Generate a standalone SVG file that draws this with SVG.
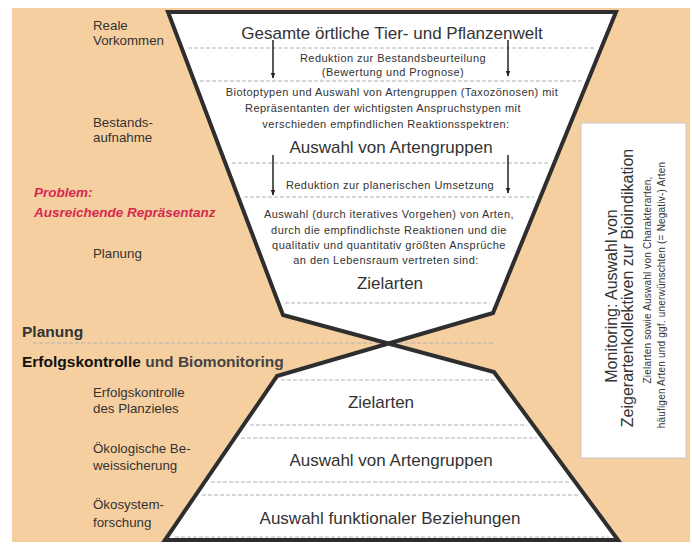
<svg xmlns="http://www.w3.org/2000/svg" width="692" height="550" viewBox="0 0 692 550">
<defs>
<marker id="ah" viewBox="0 0 10 10" refX="9" refY="5" markerWidth="6" markerHeight="6" markerUnits="userSpaceOnUse" orient="auto">
<path d="M0,1 L10,5 L0,9 Z" fill="#222"/>
</marker>
<style>
text{font-family:"Liberation Sans",Arial,sans-serif;fill:#333}
.big{font-size:17px;text-anchor:middle}
.sm{font-size:11px;text-anchor:middle;letter-spacing:0.45px}
.lbl{font-size:13.3px}
.hd{font-size:15.5px;font-weight:bold}
.red{font-size:13.5px;font-weight:bold;font-style:italic;fill:#d42a50}
.sep{stroke:#b3b3b3;stroke-width:1;stroke-dasharray:4 2;fill:none}
.arr{stroke:#222;stroke-width:1.5;marker-end:url(#ah)}
.rot1{font-size:16px;text-anchor:middle}
.rot2{font-size:10px;text-anchor:middle;letter-spacing:0.2px}
</style>
</defs>
<rect x="0" y="0" width="692" height="550" fill="#ffffff"/>
<rect x="12" y="8" width="678" height="534" fill="#f6cfa1"/>

<g id="funnel-top">
<polygon points="168,12 616,12 493,313 389,343 283,315" fill="#ffffff"/>
</g>
<g id="funnel-bottom">
<polygon points="389,343 494,372 618,540 165,540 277,376" fill="#ffffff"/>
</g>

<g id="separators">
<line class="sep" x1="188" y1="48" x2="596" y2="48"/>
<line class="sep" x1="200" y1="81" x2="583" y2="81"/>
<line class="sep" x1="232" y1="163" x2="548" y2="163"/>
<line class="sep" x1="244" y1="197" x2="534" y2="197"/>
<line class="sep" x1="285" y1="303" x2="490" y2="303"/>
<line class="sep" x1="33" y1="343" x2="494" y2="343"/>
<line class="sep" x1="281" y1="380" x2="495" y2="380"/>
<line class="sep" x1="250" y1="425" x2="527" y2="425"/>
<line class="sep" x1="241" y1="438" x2="537" y2="438"/>
<line class="sep" x1="211" y1="482" x2="569" y2="482"/>
<line class="sep" x1="202" y1="495" x2="579" y2="495"/>
<line class="sep" x1="175" y1="537" x2="609" y2="537"/>
</g>

<g id="outline">
<path d="M168,12 L616,12 L493,313 L277,376 L165,540 L618,540 L494,372 L283,315 Z" fill="none" stroke="#2e2e2e" stroke-width="4" stroke-linejoin="miter"/>
</g>

<g id="connectors">
<line class="arr" x1="273" y1="40" x2="273" y2="78"/>
<line class="arr" x1="508" y1="40" x2="508" y2="76"/>
<line class="arr" x1="273" y1="155" x2="273" y2="195"/>
<line class="arr" x1="508" y1="155" x2="508" y2="193"/>
</g>

<g id="node-gesamte">
<text class="big" x="392" y="39">Gesamte örtliche Tier- und Pflanzenwelt</text>
</g>
<g id="node-reduktion1">
<text class="sm" x="393" y="62">Reduktion zur Bestandsbeurteilung</text>
<text class="sm" x="393" y="76">(Bewertung und Prognose)</text>
</g>
<g id="node-biotoptypen">
<text class="sm" x="392" y="96">Biotoptypen und Auswahl von Artengruppen (Taxozönosen) mit</text>
<text class="sm" x="383" y="112">Repräsentanten der wichtigsten Anspruchstypen mit</text>
<text class="sm" x="386" y="128">verschieden empfindlichen Reaktionsspektren:</text>
</g>
<g id="node-auswahl-top">
<text class="big" x="391" y="153">Auswahl von Artengruppen</text>
</g>
<g id="node-reduktion2">
<text class="sm" x="390" y="189">Reduktion zur planerischen Umsetzung</text>
</g>
<g id="node-auswahl-arten">
<text class="sm" x="389" y="218">Auswahl (durch iteratives Vorgehen) von Arten,</text>
<text class="sm" x="389" y="234">durch die empfindlichste Reaktionen und die</text>
<text class="sm" x="389" y="249">qualitativ und quantitativ größten Ansprüche</text>
<text class="sm" x="386" y="264">an den Lebensraum vertreten sind:</text>
</g>
<g id="node-zielarten-top">
<text class="big" x="390" y="289">Zielarten</text>
</g>
<g id="node-zielarten-bottom">
<text class="big" x="381" y="408">Zielarten</text>
</g>
<g id="node-auswahl-bottom">
<text class="big" x="391" y="466">Auswahl von Artengruppen</text>
</g>
<g id="node-funktional">
<text class="big" x="390" y="524">Auswahl funktionaler Beziehungen</text>
</g>

<g id="labels-left">
<text class="lbl" x="93" y="30">Reale</text>
<text class="lbl" x="93" y="45">Vorkommen</text>
<text class="lbl" x="93" y="127">Bestands-</text>
<text class="lbl" x="93" y="142">aufnahme</text>
<text class="red" x="34" y="197">Problem:</text>
<text class="red" x="34" y="217">Ausreichende Repräsentanz</text>
<text class="lbl" x="93" y="258">Planung</text>
<text class="hd" x="22" y="337" fill="#111">Planung</text>
<text class="hd" x="22" y="367"><tspan fill="#111">Erfolgskontrolle</tspan> <tspan fill="#444">und Biomonitoring</tspan></text>
<text class="lbl" x="93" y="397">Erfolgskontrolle</text>
<text class="lbl" x="93" y="413">des Planzieles</text>
<text class="lbl" x="93" y="453">Ökologische Be-</text>
<text class="lbl" x="93" y="470">weissicherung</text>
<text class="lbl" x="93" y="509">Ökosystem-</text>
<text class="lbl" x="93" y="527">forschung</text>
</g>

<g id="node-monitoring">
<rect x="581" y="123" width="105" height="335" fill="#ffffff" stroke="#c8c8c8" stroke-width="1"/>
<text class="rot1" transform="translate(617,296) rotate(-90)">Monitoring: Auswahl von</text>
<text class="rot1" transform="translate(633,288) rotate(-90)">Zeigerartenkollektiven zur Bioindikation</text>
<text class="rot2" transform="translate(651,280) rotate(-90)">Zielarten sowie Auswahl von Charakterarten,</text>
<text class="rot2" transform="translate(665,295) rotate(-90)">häufigen Arten und ggf. unerwünschten (= Negativ-) Arten</text>
</g>
</svg>
